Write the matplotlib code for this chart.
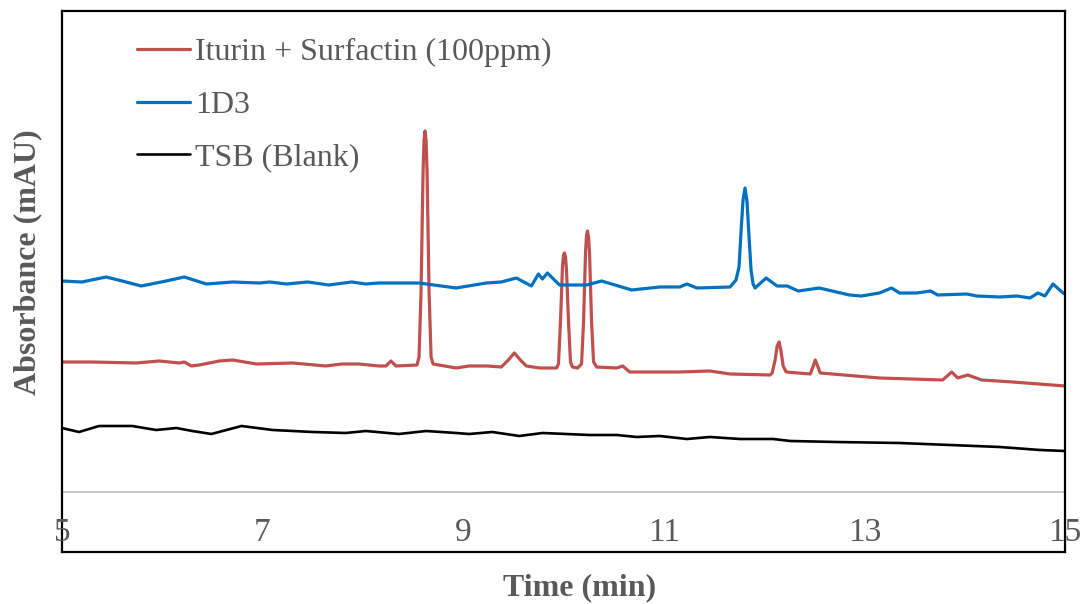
import numpy as np
import matplotlib.pyplot as plt

# chromatogram traces (time in min, signal in arbitrary mAU)
t_blank = [5.00, 5.17, 5.37, 5.70, 5.94, 6.14, 6.30, 6.49, 6.79, 7.10, 7.50, 7.83,
           8.03, 8.36, 8.63, 8.93, 9.06, 9.29, 9.56, 9.79, 10.26, 10.53, 10.73, 10.96,
           11.23, 11.46, 11.76, 12.09, 12.26, 12.72, 13.35, 13.85, 14.35, 14.75, 15.00]
y_blank = [64, 60, 66, 66, 62, 64, 61, 58, 66, 62, 60, 59,
           61, 58, 61, 59, 58, 60, 56, 59, 57, 57, 55, 56,
           53, 55, 53, 53, 51, 50, 49, 47, 45, 42, 41]

t_1d3 = [5.00, 5.20, 5.44, 5.60, 5.79, 6.04, 6.22, 6.44, 6.70, 6.97, 7.07, 7.24,
         7.45, 7.66, 7.89, 8.03, 8.16, 8.56, 8.93, 9.23, 9.38, 9.53, 9.68, 9.75,
         9.79, 9.84, 9.96, 10.23, 10.38, 10.68, 10.96, 11.16, 11.23, 11.33, 11.66,
         11.72, 11.75, 11.77, 11.79, 11.81, 11.83, 11.85, 11.87, 11.89, 11.91,
         12.02, 12.13, 12.23, 12.34,
         12.55, 12.85, 12.97, 13.15, 13.27, 13.35, 13.52, 13.66, 13.73, 14.02, 14.12,
         14.35, 14.52, 14.65, 14.73, 14.80, 14.88, 14.98, 15.00]
y_1d3 = [211, 210, 215, 211, 206, 211, 215, 208, 210, 209, 210, 208,
         210, 207, 210, 208, 209, 209, 204, 209, 210, 214, 206, 218,
         213, 219, 207, 207, 211, 202, 205, 205, 208, 204, 205,
         212, 225, 260, 292, 304, 290, 255, 222, 208, 204,
         214, 206, 206, 201,
         204, 197, 196, 199, 204, 199, 199, 201, 197, 198, 196,
         195, 196, 194, 199, 196, 208, 199, 198]

t_std = [5.00, 5.30, 5.74, 5.97, 6.17, 6.22, 6.29, 6.37, 6.57, 6.70, 6.94, 7.30,
         7.63, 7.79, 7.96, 8.16, 8.23, 8.28, 8.33, 8.54,
         8.56, 8.58, 8.60, 8.61, 8.62, 8.63, 8.64, 8.66, 8.68, 8.70,
         8.93, 9.06, 9.24, 9.38, 9.45, 9.51, 9.57, 9.63, 9.76, 9.93,
         9.95, 9.97, 9.99, 10.00, 10.01, 10.02, 10.03, 10.05, 10.07, 10.09, 10.14,
         10.18, 10.20, 10.22, 10.23, 10.24, 10.25, 10.26, 10.28, 10.30, 10.33,
         10.53, 10.59, 10.66, 10.96, 11.16, 11.46, 11.66, 12.06,
         12.08, 12.11, 12.13, 12.15, 12.17, 12.19, 12.22,
         12.46, 12.49, 12.51, 12.53, 12.56,
         13.15, 13.78, 13.87, 13.93, 14.03, 14.17, 14.48, 15.00]
y_std = [130, 130, 129, 131, 129, 130, 126, 127, 131, 132, 128, 129,
         126, 128, 128, 126, 126, 131, 126, 127,
         135, 200, 320, 352, 361, 352, 320, 200, 135, 128,
         124, 126, 126, 125, 132, 139, 132, 126, 124, 124,
         128, 170, 225, 237, 239, 235, 222, 170, 130, 125, 124,
         128, 170, 240, 257, 261, 255, 238, 170, 130, 125,
         124, 126, 120, 120, 120, 121, 118, 117,
         119, 132, 146, 150, 140, 126, 120,
         118, 126, 132, 127, 119,
         114, 112, 120, 114, 117, 112, 110, 106]

labels = ["Iturin + Surfactin (100ppm)", "1D3", "TSB (Blank)"]
xticks = [5, 7, 9, 11, 13, 15]

plt.rcParams['font.family'] = ['Liberation Serif', 'DejaVu Serif']
grey = '#595959'

fig = plt.figure(figsize=(10.83, 6.04), dpi=100)
ax = fig.add_axes([0.0572, 0.0861, 0.9262, 0.8957])

style = dict(solid_joinstyle='round', solid_capstyle='round')
ax.plot(t_std, y_std, color='#C0504D', lw=2.3, label=labels[0], **style)
ax.plot(t_1d3, y_1d3, color='#0070C0', lw=2.3, label=labels[1], **style)
ax.plot(t_blank, y_blank, color='black', lw=1.9, label=labels[2], **style)
ax.axhline(0, color='#BFBFBF', lw=1.2, zorder=0)

ax.set_xlim(5, 15)
ax.set_ylim(-60, 481)
ax.set_yticks([])
ax.set_xticks(xticks)
ax.set_xticklabels([])
ax.tick_params(axis='x', length=0)
for v in xticks:
    ax.text(v, -49, str(v), ha='center', va='baseline', fontsize=24, color=grey)

for s in ax.spines.values():
    s.set_linewidth(1.6)
    s.set_color('black')

ax.set_xlabel("Time (min)", fontsize=23, fontweight='bold', color=grey, va='center')
ax.xaxis.set_label_coords(0.516, -0.0665)
ax.set_ylabel("Absorbance (mAU)", fontsize=23, fontweight='bold', color=grey, va='center')
ax.yaxis.set_label_coords(-0.034, 0.536)

leg = ax.legend(loc='upper left', bbox_to_anchor=(0.0748, 0.950), frameon=False,
                fontsize=23, handlelength=1.66, handletextpad=0.16, labelspacing=0.72,
                borderpad=0, borderaxespad=0)
for txt in leg.get_texts():
    txt.set_color(grey)

fig.savefig('out.png', dpi=100)
